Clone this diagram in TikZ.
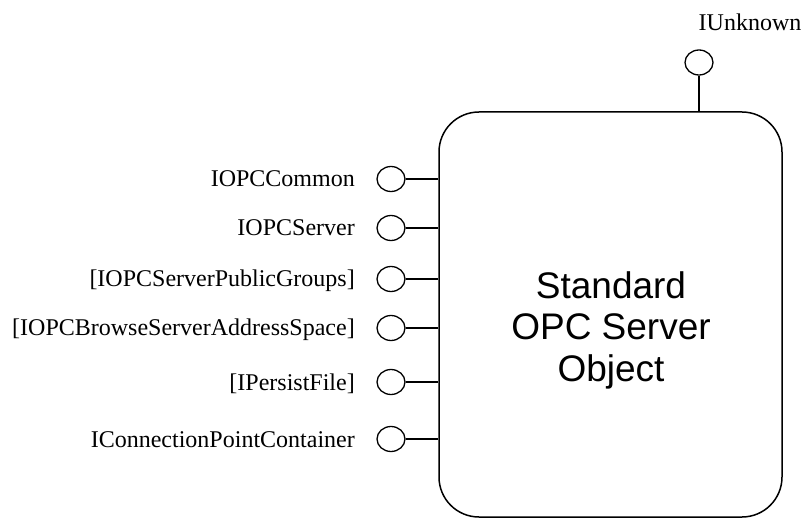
\documentclass[tikz,border=0pt]{standalone}
\usepackage{fontspec}
\setmainfont{Liberation Serif}
\newfontfamily\arialfont{Liberation Sans}
\usetikzlibrary{shapes.geometric}
\begin{document}
\begin{tikzpicture}[x=1pt,y=-1pt,
  lolli/.style={draw, ellipse, minimum width=28pt, minimum height=25pt, inner sep=0pt, line width=1.3pt},
  conn/.style={line width=1.3pt},
  lbl/.style={anchor=base east, inner sep=0pt, font=\fontsize{24}{28}\selectfont},
  obj/.style={draw, rectangle, rounded corners=40pt, minimum width=343pt, minimum height=405pt, line width=1.5pt}]
\useasboundingbox (0,0) rectangle (803,518);
\node[obj] (box) at (610.5,314.5) {};
\node[align=center, font=\arialfont\fontsize{37}{41.5}\selectfont, inner sep=0pt] (title) at (611,330) {Standard\\OPC Server\\Object};
% IUnknown
\node[lolli] (cu) at (699,62.5) {};
\draw[conn] (cu.south) -- (cu.south |- box.north);
\node[anchor=base, inner sep=0pt, font=\fontsize{24}{28}\selectfont] (lu) at (750,31) {IUnknown};
% left interfaces
\foreach \i/\y/\t in {1/179/IOPCCommon, 2/228/IOPCServer, 3/279/[IOPCServerPublicGroups], 4/328/[IOPCBrowseServerAddressSpace], 5/382/[IPersistFile], 6/439/IConnectionPointContainer}{
  \node[lolli] (c\i) at (391,\y) {};
  \draw[conn] (c\i.east) -- (c\i.east -| box.west);
  \node[lbl] (l\i) at (355,\y+8) {\t};
}
\end{tikzpicture}
\end{document}
